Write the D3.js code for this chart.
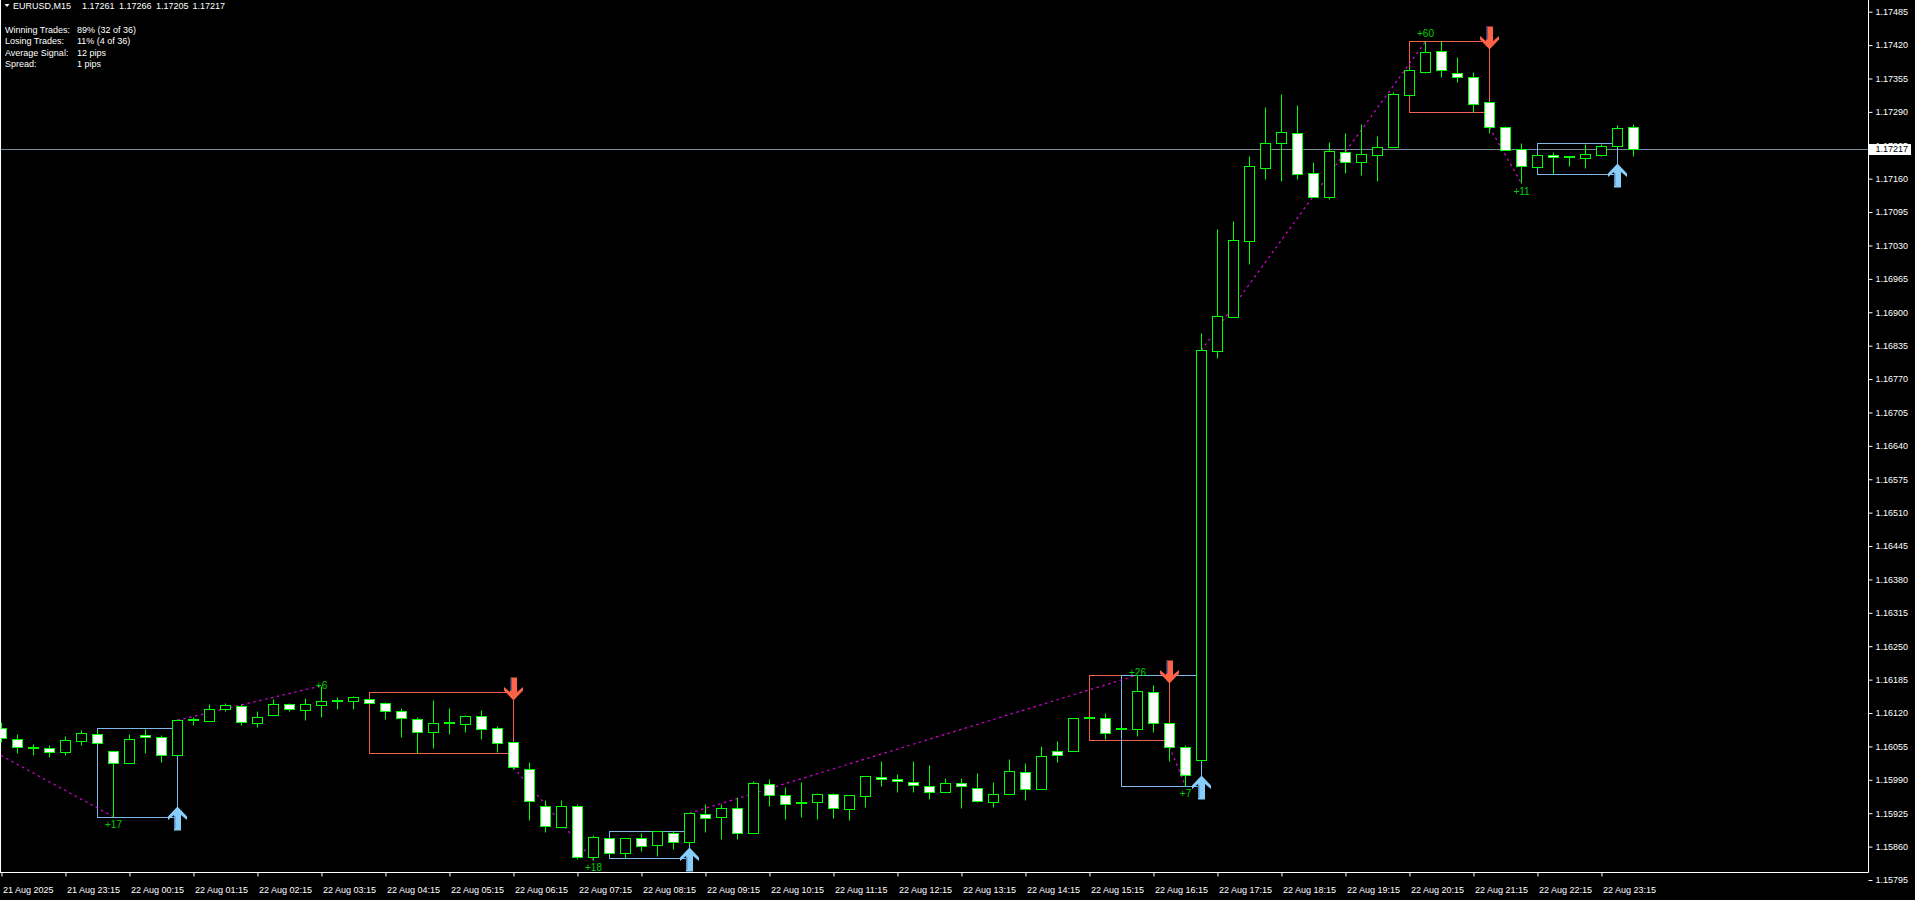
<!DOCTYPE html>
<html><head><meta charset="utf-8">
<script src="https://cdn.jsdelivr.net/npm/d3@7"></script>
<style>
html,body{margin:0;padding:0;background:#000;overflow:hidden}
svg{display:block}
text{font-family:"Liberation Sans",Arial,sans-serif}
</style></head><body>
<svg id="chart" width="1915" height="900"></svg>
<script>
// ---------------- data ----------------
const symbolTitle = "EURUSD,M15";
const headerValues = ["1.17261", "1.17266", "1.17205", "1.17217"];
const statLabels = ["Winning Trades:", "Losing Trades:", "Average Signal:", "Spread:"];
const statValues = ["89% (32 of 36)", "11% (4 of 36)", "12 pips", "1 pips"];

const opens = [1.16090,1.16069,1.16052,1.16051,1.16045,1.16065,1.16080,1.16046,1.16022,1.16077,
1.16073,1.16039,1.16106,1.16105,1.16127,1.16134,1.16100,1.16117,1.16137,1.16125,
1.16135,1.16143,1.16143,1.16148,1.16139,1.16123,1.16108,1.16083,1.16101,1.16098,
1.16115,1.16090,1.16063,1.16012,1.15939,1.15899,1.15940,1.15840,1.15876,1.15847,
1.15876,1.15863,1.15887,1.15868,1.15923,1.15917,1.15936,1.15887,1.15981,1.15961,
1.15946,1.15946,1.15962,1.15933,1.15958,1.15995,1.15991,1.15985,1.15977,1.15966,
1.15983,1.15975,1.15946,1.15962,1.16006,1.15973,1.16047,1.16047,1.16110,1.16110,
1.16089,1.16088,1.16160,1.16100,1.16053,1.16029,1.16825,1.16891,1.17039,1.17181,
1.17230,1.17248,1.17172,1.17125,1.17211,1.17193,1.17206,1.17222,1.17323,1.17368,
1.17408,1.17365,1.17357,1.17310,1.17260,1.17218,1.17182,1.17207,1.17203,1.17201,
1.17206,1.17224,1.17261];
const highs = [1.16103,1.16079,1.16060,1.16057,1.16075,1.16087,1.16086,1.16046,1.16079,1.16088,
1.16077,1.16108,1.16113,1.16138,1.16139,1.16138,1.16124,1.16148,1.16139,1.16149,
1.16173,1.16151,1.16153,1.16149,1.16141,1.16129,1.16113,1.16145,1.16130,1.16117,
1.16126,1.16094,1.16064,1.16025,1.15951,1.15951,1.15942,1.15883,1.15876,1.15876,
1.15886,1.15890,1.15890,1.15926,1.15942,1.15942,1.15956,1.15987,1.15992,1.15976,
1.15985,1.15964,1.15964,1.15961,1.15997,1.16027,1.16001,1.16027,1.16018,1.15994,
1.15994,1.16003,1.15985,1.16031,1.16022,1.16056,1.16066,1.16110,1.16113,1.16120,
1.16091,1.16194,1.16174,1.16101,1.16057,1.16860,1.17062,1.17078,1.17204,1.17300,
1.17325,1.17303,1.17192,1.17231,1.17249,1.17266,1.17243,1.17328,1.17378,1.17427,
1.17427,1.17397,1.17367,1.17312,1.17262,1.17229,1.17207,1.17212,1.17204,1.17228,
1.17228,1.17264,1.17266];
const lows = [1.16064,1.16042,1.16038,1.16035,1.16038,1.16058,1.16060,1.15918,1.16022,1.16043,
1.16025,1.16039,1.16096,1.16105,1.16123,1.16096,1.16093,1.16116,1.16123,1.16107,
1.16113,1.16128,1.16127,1.16139,1.16109,1.16073,1.16043,1.16051,1.16079,1.16084,
1.16069,1.16045,1.16012,1.15912,1.15889,1.15899,1.15835,1.15833,1.15846,1.15837,
1.15852,1.15842,1.15855,1.15866,1.15889,1.15874,1.15874,1.15886,1.15940,1.15914,
1.15918,1.15914,1.15916,1.15911,1.15938,1.15977,1.15967,1.15967,1.15953,1.15966,
1.15936,1.15946,1.15938,1.15962,1.15950,1.15973,1.16025,1.16047,1.16109,1.16070,
1.16088,1.16076,1.16084,1.16027,1.15978,1.16028,1.16811,1.16891,1.16994,1.17159,
1.17155,1.17159,1.17125,1.17121,1.17171,1.17168,1.17155,1.17222,1.17323,1.17366,
1.17358,1.17349,1.17289,1.17249,1.17215,1.17151,1.17182,1.17169,1.17185,1.17181,
1.17204,1.17224,1.17205];
const closes = [1.16071,1.16053,1.16054,1.16045,1.16067,1.16081,1.16061,1.16022,1.16069,1.16073,
1.16038,1.16106,1.16108,1.16127,1.16136,1.16102,1.16112,1.16138,1.16128,1.16137,
1.16143,1.16145,1.16151,1.16140,1.16123,1.16110,1.16083,1.16100,1.16102,1.16114,
1.16088,1.16061,1.16014,1.15949,1.15900,1.15940,1.15840,1.15878,1.15847,1.15876,
1.15861,1.15890,1.15868,1.15925,1.15915,1.15936,1.15887,1.15983,1.15960,1.15942,
1.15945,1.15962,1.15935,1.15960,1.15997,1.15991,1.15987,1.15979,1.15966,1.15983,
1.15977,1.15948,1.15962,1.16008,1.15973,1.16036,1.16038,1.16110,1.16112,1.16082,
1.16090,1.16162,1.16100,1.16054,1.15999,1.16826,1.16893,1.17040,1.17184,1.17230,
1.17250,1.17170,1.17125,1.17213,1.17193,1.17208,1.17221,1.17324,1.17371,1.17406,
1.17371,1.17358,1.17306,1.17260,1.17215,1.17184,1.17207,1.17203,1.17204,1.17209,
1.17223,1.17258,1.17217];

const timeTickLabels = ["21 Aug 2025","21 Aug 23:15","22 Aug 00:15","22 Aug 01:15","22 Aug 02:15",
"22 Aug 03:15","22 Aug 04:15","22 Aug 05:15","22 Aug 06:15","22 Aug 07:15","22 Aug 08:15",
"22 Aug 09:15","22 Aug 10:15","22 Aug 11:15","22 Aug 12:15","22 Aug 13:15","22 Aug 14:15",
"22 Aug 15:15","22 Aug 16:15","22 Aug 17:15","22 Aug 18:15","22 Aug 19:15","22 Aug 20:15",
"22 Aug 21:15","22 Aug 22:15","22 Aug 23:15"];
const barsPerTimeTick = 4;

const priceTicks = [1.17485,1.17420,1.17355,1.17290,1.17225,1.17160,1.17095,1.17030,1.16965,
1.16900,1.16835,1.16770,1.16705,1.16640,1.16575,1.16510,1.16445,1.16380,1.16315,1.16250,
1.16185,1.16120,1.16055,1.15990,1.15925,1.15860,1.15795];
const currentPrice = 1.17217;

// signal boxes: type, first bar, last bar, top price, bottom price
const boxTypes  = ["buy","sell","buy","sell","buy","sell","buy"];
const boxStart  = [6, 23, 38, 68, 70, 88, 96];
const boxEnd    = [11, 32, 43, 73, 75, 93, 101];
const boxHigh   = [1.16090,1.16160,1.15891,1.16194,1.16194,1.17427,1.17229];
const boxLow    = [1.15917,1.16042,1.15837,1.16067,1.15977,1.17289,1.17169];

// closed trades: entry bar/price -> exit bar/price, pips label and its price level
const tradeFromBar   = [-3, 11, 32, 43, 73, 75, 93];
const tradeFromPrice = [1.16088,1.16106,1.16014,1.15925,1.16054,1.16826,1.17260];
const tradeToBar     = [7, 20, 37, 71, 74, 89, 95];
const tradeToPrice   = [1.15918,1.16173,1.15833,1.16194,1.15978,1.17427,1.17151];
const tradeLabels    = ["+17","+6","+18","+26","+7","+60","+11"];
const tradeLabelPrice = [1.15904,1.16173,1.15819,1.16199,1.15964,1.17443,1.17136];

// ---------------- drawing ----------------
const W = 1915, H = 900, plotRight = 1868, plotBottom = 872.5;
const svg = d3.select("#chart");
svg.append("rect").attr("width", W).attr("height", H).attr("fill", "#000");

const x = d3.scaleLinear().domain([0, 102]).range([1.5, 1633.5]);
const y = d3.scaleLinear().domain([1.15795, 1.17485]).range([880, 11.7]);
const py = p => Math.round(y(p)) + 0.5;

svg.append("defs").append("clipPath").attr("id", "plotClip")
  .append("rect").attr("x", 0).attr("y", 0).attr("width", plotRight).attr("height", plotBottom);

const g = svg.append("g").attr("clip-path", "url(#plotClip)");

// bid line
g.append("line").attr("x1", 0).attr("x2", plotRight)
  .attr("y1", py(currentPrice)).attr("y2", py(currentPrice))
  .attr("stroke", "#778899").attr("stroke-width", 1);

// boxes
const boxes = boxTypes.map((t, i) => ({t, s: boxStart[i], e: boxEnd[i], hi: boxHigh[i], lo: boxLow[i]}));
g.selectAll("rect.box").data(boxes).join("rect").attr("class", "box")
  .attr("x", d => x(d.s)).attr("width", d => x(d.e) - x(d.s))
  .attr("y", d => py(d.hi)).attr("height", d => py(d.lo) - py(d.hi))
  .attr("fill", "none")
  .attr("stroke", d => d.t === "buy" ? "#7fb8e8" : "#f0604a").attr("stroke-width", 1);

// trade lines
const trades = tradeLabels.map((l, i) => ({l, fb: tradeFromBar[i], fp: tradeFromPrice[i],
  tb: tradeToBar[i], tp: tradeToPrice[i], lp: tradeLabelPrice[i]}));
g.selectAll("line.trade").data(trades).join("line").attr("class", "trade")
  .attr("x1", d => x(d.fb)).attr("y1", d => y(d.fp))
  .attr("x2", d => x(d.tb)).attr("y2", d => y(d.tp))
  .attr("stroke", "#e000e0").attr("stroke-width", 1.2).attr("stroke-dasharray", "2.5,3.5");

// candles
const bars = opens.map((o, i) => ({i, o, h: highs[i], l: lows[i], c: closes[i]}));
g.selectAll("line.wick").data(bars).join("line").attr("class", "wick")
  .attr("x1", d => x(d.i)).attr("x2", d => x(d.i))
  .attr("y1", d => py(d.h)).attr("y2", d => py(d.l))
  .attr("stroke", "#00ff00").attr("stroke-width", 1);
g.selectAll("rect.body").data(bars).join("rect").attr("class", "body")
  .attr("x", d => x(d.i) - 5).attr("width", 10)
  .attr("y", d => Math.min(py(d.o), py(d.c)))
  .attr("height", d => Math.max(1, Math.abs(py(d.o) - py(d.c))))
  .attr("fill", d => d.c > d.o ? "#000" : "#fff")
  .attr("stroke", "#00ff00").attr("stroke-width", 1);

// trade labels
g.selectAll("text.pips").data(trades).join("text").attr("class", "pips")
  .attr("x", d => x(d.tb)).attr("text-anchor", "middle")
  .attr("y", d => y(d.lp)).attr("dy", "0.36em")
  .attr("fill", "#00d000").attr("font-size", "10px")
  .text(d => d.l);

// arrows
const upArrow = "M0,0 L9.5,10 L9.5,13.5 L3.5,8.5 L3.5,24 L-3.5,24 L-3.5,8.5 L-9.5,13.5 L-9.5,10 Z";
const downArrow = "M0,0 L9.5,-10 L9.5,-13.5 L3.5,-8.5 L3.5,-23 L-3.5,-23 L-3.5,-8.5 L-9.5,-13.5 L-9.5,-10 Z";
g.selectAll("path.arrow").data(boxes).join("path").attr("class", "arrow")
  .attr("d", d => d.t === "buy" ? upArrow : downArrow)
  .attr("transform", d => d.t === "buy"
      ? `translate(${x(d.e)},${py(d.lo) - 11})`
      : `translate(${x(d.e)},${py(d.hi) + 8})`)
  .attr("fill", d => d.t === "buy" ? "#87cefa" : "#ff6347");
g.selectAll("rect.shade").data(boxes).join("rect").attr("class", "shade")
  .attr("x", d => x(d.e) - 3.5).attr("width", 1.5)
  .attr("y", d => d.t === "buy" ? py(d.lo) - 11 + 9.5 : py(d.hi) + 8 - 23)
  .attr("height", 13)
  .attr("fill", d => d.t === "buy" ? "#5a8fc0" : "#2a3a70");

// frame lines
svg.append("line").attr("x1", 0.5).attr("x2", 0.5).attr("y1", 0).attr("y2", plotBottom).attr("stroke", "#fff");
svg.append("line").attr("x1", 0).attr("x2", plotRight + 0.5).attr("y1", plotBottom).attr("y2", plotBottom).attr("stroke", "#fff");
svg.append("line").attr("x1", plotRight + 0.5).attr("x2", plotRight + 0.5).attr("y1", 0).attr("y2", plotBottom).attr("stroke", "#fff");

// price axis
const yAxis = d3.axisRight(y).tickValues(priceTicks).tickFormat(d3.format(".5f")).tickSize(4).tickPadding(3);
const ya = svg.append("g").attr("transform", `translate(${plotRight + 0.5},0)`).call(yAxis);
ya.select(".domain").remove();
ya.selectAll("line").attr("stroke", "#fff");
ya.selectAll("text").attr("fill", "#fff").attr("font-size", "9px")
  .attr("font-family", '"Liberation Sans",Arial,sans-serif');

// current price tag
svg.append("rect").attr("x", plotRight + 1).attr("y", Math.round(y(currentPrice)) - 5)
  .attr("width", 42).attr("height", 11).attr("fill", "#fff");
svg.append("text").attr("x", plotRight + 7.5).attr("y", y(currentPrice)).attr("dy", "0.32em")
  .attr("fill", "#000").attr("font-size", "9px").text(d3.format(".5f")(currentPrice));

// time axis
const tickBars = timeTickLabels.map((_, k) => k * barsPerTimeTick);
const xAxis = d3.axisBottom(x).tickValues(tickBars)
  .tickFormat((d, k) => timeTickLabels[k]).tickSize(4).tickPadding(4);
const xa = svg.append("g").attr("transform", `translate(0,${plotBottom})`).call(xAxis);
xa.select(".domain").remove();
xa.selectAll("line").attr("stroke", "#fff");
xa.selectAll("text").attr("fill", "#fff").attr("font-size", "9px")
  .attr("font-family", '"Liberation Sans",Arial,sans-serif')
  .attr("text-anchor", "start").attr("x", 1).attr("y", 14.5).attr("dy", "0.71em");

// header
svg.append("path").attr("d", "M4.5,4 L9.5,4 L7,7 Z").attr("fill", "#fff");
svg.append("text").attr("x", 13).attr("y", 8.5).attr("fill", "#fff").attr("font-size", "9px").text(symbolTitle);
const hvX = [82, 119, 156, 192.5];
svg.selectAll("text.hv").data(headerValues).join("text").attr("class", "hv")
  .attr("x", (d, i) => hvX[i]).attr("y", 8.5).attr("fill", "#fff").attr("font-size", "9px").text(d => d);

// stats
svg.selectAll("text.sl").data(statLabels).join("text").attr("class", "sl")
  .attr("x", 5).attr("y", (d, i) => 32.5 + i * 11.5).attr("fill", "#fff").attr("font-size", "9px").text(d => d);
svg.selectAll("text.sv").data(statValues).join("text").attr("class", "sv")
  .attr("x", 77).attr("y", (d, i) => 32.5 + i * 11.5).attr("fill", "#fff").attr("font-size", "9px").text(d => d);
</script>
</body></html>
